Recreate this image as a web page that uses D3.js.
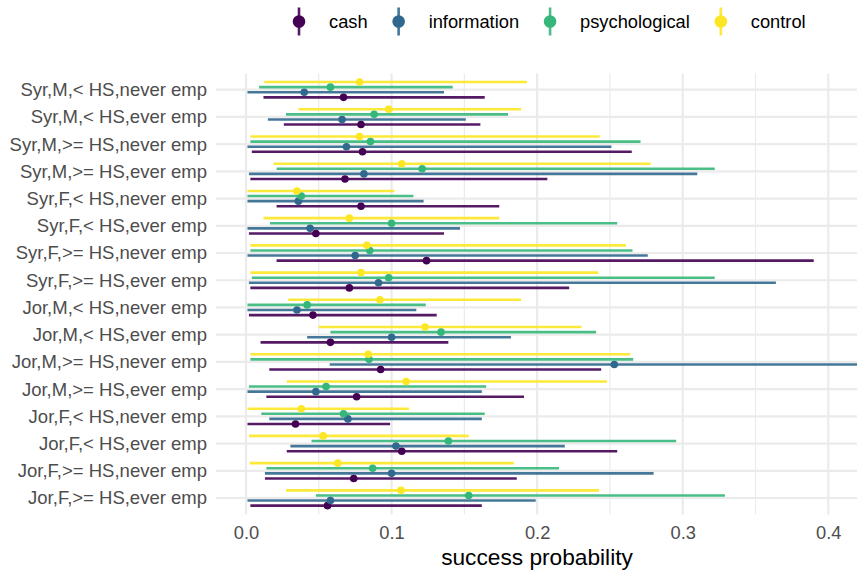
<!DOCTYPE html>
<html>
<head>
<meta charset="utf-8">
<script src="https://cdn.jsdelivr.net/npm/d3@7"></script>
<style>
  html, body { margin: 0; padding: 0; background: #fff; }
  svg { display: block; }
  text { font-family: "Liberation Sans", Arial, Helvetica, sans-serif; }
</style>
</head>
<body>
<svg id="chart" width="857" height="570"></svg>
<script>
const categories = [
  "Syr,M,< HS,never emp", "Syr,M,< HS,ever emp", "Syr,M,>= HS,never emp", "Syr,M,>= HS,ever emp",
  "Syr,F,< HS,never emp", "Syr,F,< HS,ever emp", "Syr,F,>= HS,never emp", "Syr,F,>= HS,ever emp",
  "Jor,M,< HS,never emp", "Jor,M,< HS,ever emp", "Jor,M,>= HS,never emp", "Jor,M,>= HS,ever emp",
  "Jor,F,< HS,never emp", "Jor,F,< HS,ever emp", "Jor,F,>= HS,never emp", "Jor,F,>= HS,ever emp"
];
const seriesNames = ["cash", "information", "psychological", "control"];
const seriesColors = ["#440154", "#31688E", "#35B779", "#FDE725"];

const cashEst = [0.067, 0.079, 0.080, 0.068, 0.079, 0.048, 0.124, 0.071, 0.046, 0.058, 0.0925, 0.076, 0.034, 0.107, 0.074, 0.056];
const cashLo  = [0.012, 0.026, 0.004, 0.003, 0.021, 0.002, 0.021, 0.003, 0.002, 0.010, 0.016, 0.014, 0.001, 0.028, 0.013, 0.003];
const cashHi  = [0.164, 0.161, 0.265, 0.207, 0.174, 0.136, 0.390, 0.222, 0.131, 0.139, 0.244, 0.191, 0.099, 0.255, 0.186, 0.162];

const infoEst = [0.040, 0.066, 0.069, 0.081, 0.036, 0.044, 0.075, 0.091, 0.035, 0.100, 0.253, 0.048, 0.070, 0.103, 0.100, 0.058];
const infoLo  = [0.001, 0.015, 0.001, 0.002, 0.001, 0.001, 0.001, 0.002, 0.001, 0.042, 0.0575, 0.001, 0.016, 0.0305, 0.013, 0.001];
const infoHi  = [0.136, 0.151, 0.251, 0.310, 0.122, 0.147, 0.276, 0.364, 0.117, 0.182, 0.46, 0.162, 0.162, 0.219, 0.280, 0.199];

const psychEst = [0.058, 0.088, 0.0855, 0.121, 0.038, 0.100, 0.085, 0.098, 0.042, 0.134, 0.0845, 0.055, 0.067, 0.139, 0.087, 0.153];
const psychLo  = [0.009, 0.0275, 0.003, 0.021, 0.001, 0.0165, 0.003, 0.004, 0.001, 0.058, 0.003, 0.002, 0.0105, 0.045, 0.014, 0.048];
const psychHi  = [0.142, 0.180, 0.271, 0.322, 0.115, 0.255, 0.2655, 0.322, 0.1235, 0.2405, 0.266, 0.165, 0.164, 0.2955, 0.215, 0.329];

const ctrlEst = [0.078, 0.098, 0.078, 0.107, 0.035, 0.071, 0.083, 0.079, 0.092, 0.123, 0.084, 0.110, 0.038, 0.053, 0.063, 0.1065];
const ctrlLo  = [0.0125, 0.036, 0.003, 0.019, 0.001, 0.012, 0.003, 0.003, 0.029, 0.050, 0.003, 0.028, 0.001, 0.002, 0.0025, 0.0275];
const ctrlHi  = [0.193, 0.189, 0.243, 0.278, 0.102, 0.174, 0.261, 0.242, 0.189, 0.2305, 0.264, 0.248, 0.112, 0.153, 0.184, 0.2425];

const xTicks = [0, 0.1, 0.2, 0.3, 0.4];
const xMinorTicks = [0.05, 0.15, 0.25, 0.35];
const xTitle = "success probability";

const seriesData = [
  { name: "cash", est: cashEst, lo: cashLo, hi: cashHi },
  { name: "information", est: infoEst, lo: infoLo, hi: infoHi },
  { name: "psychological", est: psychEst, lo: psychLo, hi: psychHi },
  { name: "control", est: ctrlEst, lo: ctrlLo, hi: ctrlHi }
];

const rows = [];
seriesData.forEach(s => {
  categories.forEach((c, i) => rows.push({ series: s.name, cat: c, est: s.est[i], lo: s.lo[i], hi: s.hi[i] }));
});

const svg = d3.select("#chart");
const panel = { left: 216, top: 73.4, bottom: 514.3, right: 888 };

const x = d3.scaleLinear().domain([0, 0.4]).range([246, 828.3]);
const y = d3.scalePoint().domain(categories).range([89.7, 498]);
const dodge = d3.scalePoint().domain(["control", "psychological", "information", "cash"]).range([-7.65, 7.65]);
const color = d3.scaleOrdinal().domain(seriesNames).range(seriesColors);

// gridlines
const grid = svg.append("g");
grid.selectAll(".hg").data(categories).join("line")
  .attr("x1", panel.left).attr("x2", panel.right)
  .attr("y1", d => y(d)).attr("y2", d => y(d))
  .attr("stroke", "#ebebeb").attr("stroke-width", 2.2);
grid.selectAll(".vmin").data(xMinorTicks).join("line")
  .attr("x1", d => x(d)).attr("x2", d => x(d))
  .attr("y1", panel.top).attr("y2", panel.bottom)
  .attr("stroke", "#ebebeb").attr("stroke-width", 1.2);
grid.selectAll(".vmaj").data(xTicks).join("line")
  .attr("x1", d => x(d)).attr("x2", d => x(d))
  .attr("y1", panel.top).attr("y2", panel.bottom)
  .attr("stroke", "#ebebeb").attr("stroke-width", 2.2);

// error bars and points
const marks = svg.append("g");
marks.selectAll(".err").data(rows).join("line")
  .attr("x1", d => x(d.lo)).attr("x2", d => x(d.hi))
  .attr("y1", d => y(d.cat) + dodge(d.series)).attr("y2", d => y(d.cat) + dodge(d.series))
  .attr("stroke", d => color(d.series)).attr("stroke-width", 2.6).attr("stroke-opacity", 0.9);
marks.selectAll(".pt").data(rows).join("circle")
  .attr("cx", d => x(d.est)).attr("cy", d => y(d.cat) + dodge(d.series))
  .attr("r", 3.8).attr("fill", d => color(d.series));

// y axis
const yAxis = svg.append("g").attr("transform", `translate(${panel.left},0)`)
  .call(d3.axisLeft(y).tickSize(0).tickPadding(9));
yAxis.select(".domain").remove();
yAxis.selectAll("text").attr("font-size", 18.5).attr("fill", "#4d4d4d")
  .style("font-family", '"Liberation Sans", Arial, sans-serif');

// x axis
const xAxis = svg.append("g").attr("transform", `translate(0,${panel.bottom})`)
  .call(d3.axisBottom(x).tickValues(xTicks).tickFormat(d3.format(".1f")).tickSize(0).tickPadding(12));
xAxis.select(".domain").remove();
xAxis.selectAll("text").attr("font-size", 18.3).attr("fill", "#4d4d4d")
  .style("font-family", '"Liberation Sans", Arial, sans-serif');

svg.append("text").attr("x", 537).attr("y", 565)
  .attr("text-anchor", "middle").attr("font-size", 22.7).attr("fill", "#000")
  .text(xTitle);

// legend
const legend = svg.append("g");
let lx = 299;
const ly = 21.5;
seriesNames.forEach((name, i) => {
  const g = legend.append("g");
  g.append("line").attr("x1", lx).attr("x2", lx).attr("y1", ly - 14).attr("y2", ly + 14)
    .attr("stroke", color(name)).attr("stroke-width", 2.6).attr("stroke-opacity", 0.9);
  g.append("circle").attr("cx", lx).attr("cy", ly).attr("r", 6.3).attr("fill", color(name));
  const t = g.append("text").attr("x", lx + 30).attr("y", ly).attr("dy", "0.35em")
    .attr("font-size", 18.3).attr("fill", "#000").text(name);
  const w = t.node().getComputedTextLength();
  lx = lx + 30 + w + 31;
});
</script>
</body>
</html>
